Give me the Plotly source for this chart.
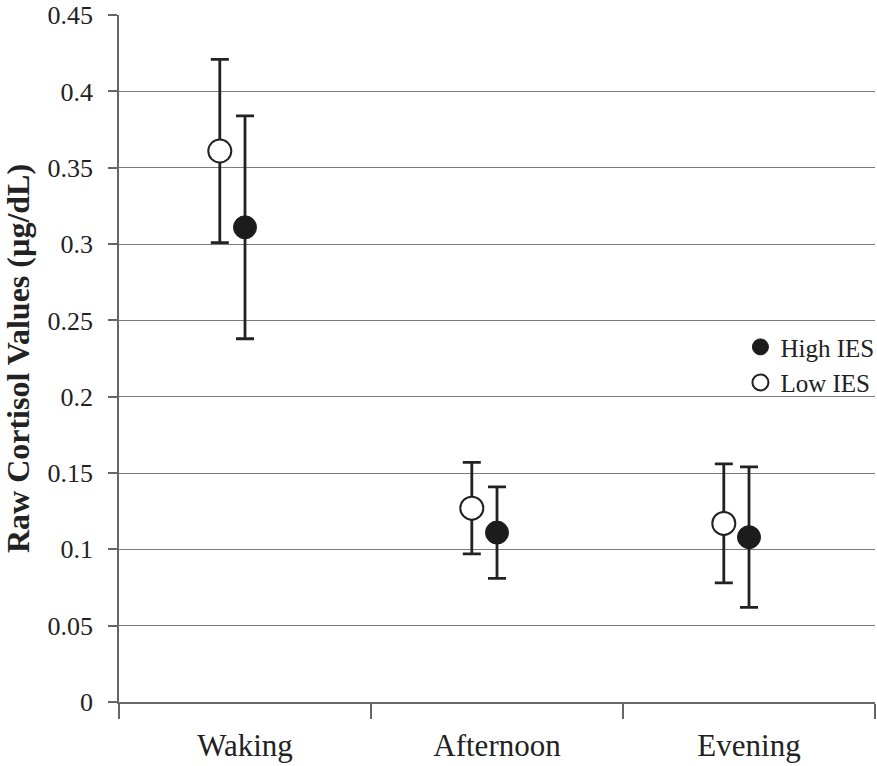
import plotly.graph_objects as go

categories = ["Waking", "Afternoon", "Evening"]
high_mean = [0.311, 0.111, 0.108]
high_err = [0.073, 0.030, 0.046]
low_mean = [0.361, 0.127, 0.117]
low_err = [0.060, 0.030, 0.039]
y_ticks = [0, 0.05, 0.1, 0.15, 0.2, 0.25, 0.3, 0.35, 0.4, 0.45]
y_ticktext = ["0", "0.05", "0.1", "0.15", "0.2", "0.25", "0.3", "0.35", "0.4", "0.45"]

FONT = "Liberation Serif, Times New Roman, serif"
INK = "#222222"
pos = list(range(len(categories)))
offset = 0.1

fig = go.Figure()
fig.add_trace(go.Scatter(
    x=pos, y=high_mean, mode="markers", name="High IES",
    marker=dict(symbol="circle", size=23, color="#1c1c1c", line=dict(color="#1c1c1c", width=1)),
    error_y=dict(type="data", array=high_err, visible=True, color=INK, thickness=2.8, width=9),
))
fig.add_trace(go.Scatter(
    x=[p - offset for p in pos], y=low_mean, mode="markers", name="Low IES",
    marker=dict(symbol="circle", size=23, color="white", line=dict(color=INK, width=2)),
    error_y=dict(type="data", array=low_err, visible=True, color=INK, thickness=2.8, width=9),
))

fig.update_layout(
    width=877, height=766,
    margin=dict(l=119, r=2, t=15, b=64, autoexpand=False),
    plot_bgcolor="white", paper_bgcolor="white",
    font=dict(family=FONT, color=INK),
    showlegend=True,
    legend=dict(x=0.822, y=0.55, xanchor="left", yanchor="top",
                bgcolor="rgba(0,0,0,0)", font=dict(size=25, family=FONT, color=INK),
                itemsizing="trace", tracegroupgap=0),
)
fig.update_xaxes(
    range=[-0.5, 2.5], tickvals=pos, ticktext=categories, ticks="",
    tickfont=dict(size=31, family=FONT, color=INK), ticklabelstandoff=15,
    showgrid=False, zeroline=False, showline=True, linecolor="#666666", linewidth=1.5,
    automargin=False,
    minor=dict(tickvals=[-0.5, 0.5, 1.5, 2.5], ticks="outside", ticklen=15,
               tickcolor="#666666", tickwidth=1.5, showgrid=False),
)
fig.update_yaxes(
    range=[0, 0.4501], tickvals=y_ticks, ticktext=y_ticktext,
    ticks="outside", ticklen=9, tickcolor="#666666", tickwidth=1.5,
    tickfont=dict(size=26, family=FONT, color=INK), ticklabelstandoff=10,
    showgrid=True, gridcolor="#7a7a7a", gridwidth=1.3,
    zeroline=False, showline=True, linecolor="#666666", linewidth=1.5,
    automargin=False,
    title=dict(text="<b>Raw Cortisol Values (µg/dL)</b>",
               font=dict(size=32, family=FONT, color=INK), standoff=8),
)

fig.write_html(
    "out.html",
    config={"displayModeBar": False},
    post_script="document.body.style.margin='0';document.body.style.overflow='hidden';",
)
